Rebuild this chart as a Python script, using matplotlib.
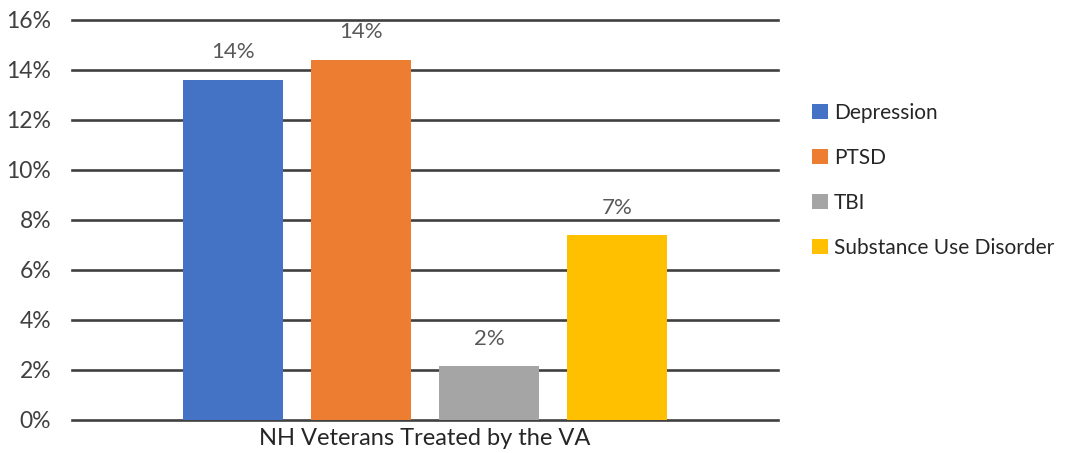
import matplotlib
matplotlib.use("Agg")
import matplotlib.pyplot as plt
from matplotlib.ticker import FuncFormatter, MultipleLocator
from matplotlib.patches import Patch

categories = ["Depression", "PTSD", "TBI", "Substance Use Disorder"]
values = [13.6, 14.4, 2.15, 7.4]
colors = ["#4472C4", "#ED7D31", "#A5A5A5", "#FFC000"]
group_label = "NH Veterans Treated by the VA"

plt.rcParams['font.family'] = ['Lato', 'DejaVu Sans']

fig = plt.figure(figsize=(10.68, 4.53), dpi=100)
ax = fig.add_axes([72/1068, 1-420/453, 706/1068, 400/453])

width = 100/706
step = 128/706
text_color = "#595959"
for i, (c, v, col) in enumerate(zip(categories, values, colors)):
    x = (i - 1.5) * step
    ax.bar(x, v, width=width, color=col, zorder=3, label=c)
    ax.text(x, v + 0.7, f"{v:.0f}%", ha="center", va="bottom",
            fontsize=16, color=text_color, zorder=4)

ax.set_xlim(-0.5, 0.5)
ax.set_ylim(0, 16)
ax.yaxis.set_major_locator(MultipleLocator(2))
ax.yaxis.set_major_formatter(FuncFormatter(lambda v, p: f"{v:.0f}%"))
ax.grid(axis="y", color="#404040", linewidth=1.9, zorder=0)
for gl in ax.get_ygridlines():
    gl.set_clip_on(False)
for s in ax.spines.values():
    s.set_visible(False)
ax.tick_params(axis="y", length=0, pad=15, labelsize=16.5, labelcolor="#404040")
ax.set_xticks([0])
ax.set_xticklabels([group_label])
ax.tick_params(axis="x", length=0, pad=6, labelsize=17, labelcolor="#262626")

handles = [Patch(facecolor=c) for c in colors]
fig.legend(handles, categories, loc="upper left", bbox_to_anchor=(793/1068, 1-84/453),
           frameon=False, fontsize=15, handlelength=0.8, handleheight=0.8,
           handletextpad=0.25, labelspacing=1.2, labelcolor="#262626")

fig.savefig("out.png", dpi=100)
